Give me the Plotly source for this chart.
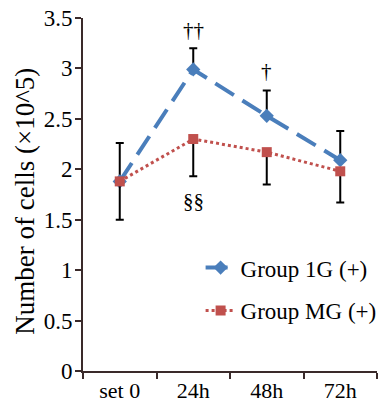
import plotly.graph_objects as go

categories = ["set 0", "24h", "48h", "72h"]
group_1g = [1.88, 2.99, 2.53, 2.09]
group_1g_err_up = [0.38, 0.21, 0.25, 0.29]
group_mg = [1.88, 2.30, 2.17, 1.98]
group_mg_err_down = [0.38, 0.37, 0.32, 0.31]
y_ticks = [0, 0.5, 1, 1.5, 2, 2.5, 3, 3.5]
y_tick_labels = ["0", "0.5", "1", "1.5", "2", "2.5", "3", "3.5"]

font = "Liberation Serif"
blue = "#4a7ebb"
red = "#c0504d"
axis_color = "#3a2a2a"

fig = go.Figure()
fig.add_trace(go.Scatter(
    x=categories, y=group_1g, name="Group 1G (+)", mode="lines+markers",
    legendgroup="g1",
    line=dict(color=blue, width=4, dash="22px,10px"),
    marker=dict(symbol="diamond", size=11, color=blue),
    error_y=dict(type="data", symmetric=False, array=group_1g_err_up,
                 arrayminus=[0] * 4, color="black", thickness=2, width=4),
))
fig.add_trace(go.Scatter(
    x=categories, y=group_mg, name="Group MG (+)", mode="lines+markers",
    legendgroup="mg",
    line=dict(color=red, width=3, dash="dot"),
    marker=dict(symbol="square", size=10, color=red),
    error_y=dict(type="data", symmetric=False, array=[0] * 4,
                 arrayminus=group_mg_err_down, color="black", thickness=2, width=4),
))

fig.add_annotation(x="24h", y=3.2, text="††", showarrow=False, yanchor="middle",
                   yshift=18, font=dict(family=font, size=21, color="black"))
fig.add_annotation(x="48h", y=2.78, text="†", showarrow=False, yanchor="middle",
                   yshift=20, font=dict(family=font, size=21, color="black"))
fig.add_annotation(x="24h", y=1.93, text="§§", showarrow=False, yanchor="middle",
                   yshift=-25, font=dict(family=font, size=21, color="black"))
fig.add_annotation(xref="paper", yref="paper", x=-0.200, y=0.48,
                   text="Number of cells (×10^5)", textangle=-90, showarrow=False,
                   xanchor="center", yanchor="middle",
                   font=dict(family=font, size=27, color="black"))

fig.update_layout(
    width=378, height=394,
    margin=dict(l=75, r=9, t=10, b=31, autoexpand=False),
    paper_bgcolor="white", plot_bgcolor="white",
    font=dict(family=font, size=23, color="black"),
    showlegend=True,
    legend=dict(x=0.40, y=0.232, xanchor="left", yanchor="middle",
                bgcolor="rgba(0,0,0,0)", font=dict(family=font, size=23),
                itemwidth=30, tracegroupgap=10),
    xaxis=dict(type="category", showline=True, linecolor=axis_color, linewidth=2,
               ticks="outside", tickson="boundaries", ticklen=6, tickwidth=2,
               tickcolor=axis_color, showgrid=False, tickfont=dict(size=22),
               range=[-0.5, 3.5], automargin=False, ticklabelstandoff=-1,
               ticklabeloverflow="allow"),
    yaxis=dict(range=[0, 3.5], tickvals=y_ticks, ticktext=y_tick_labels,
               showline=True, linecolor=axis_color, linewidth=2, ticks="outside",
               ticklen=6, tickwidth=2, tickcolor=axis_color, showgrid=False,
               zeroline=False, tickfont=dict(size=23), automargin=False,
               ticklabelstandoff=-2, ticklabeloverflow="allow"),
)

fig.write_html("out.html")
